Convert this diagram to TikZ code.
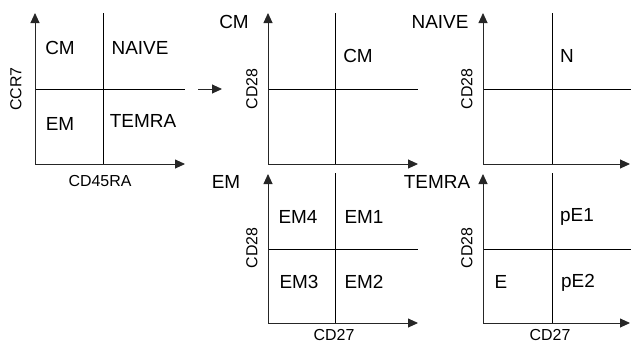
\documentclass[tikz,border=0pt]{standalone}
\usepackage{fontspec}
\setmainfont{Liberation Sans}
\usetikzlibrary{arrows.meta}
\tikzset{
  axis/.style={draw=black!85, line width=0.9bp, -{Triangle[length=10bp,width=9bp]}},
  divider/.style={draw=black, line width=0.8bp},
  quad/.style={font=\fontsize{19}{21}\selectfont, inner sep=0pt},
  axlabel/.style={font=\fontsize{16}{18}\selectfont, inner sep=0pt},
}

\begin{document}
\begin{tikzpicture}[x=1bp, y=-1bp]
    \useasboundingbox (0,0) rectangle (631,344);

    % CCR7 / CD45RA
    \coordinate (o1) at (35,164);
    \coordinate (t1) at (35,13);
    \coordinate (r1) at (185,164);
    \coordinate (vt1) at (103,13);
    \coordinate (vb1) at (103,164);
    \coordinate (hr1) at (185,89);
    \coordinate (hl1) at (35,89);
    \draw[divider] (vt1) -- (vb1);
    \draw[divider] (hl1) -- (hr1);
    \draw[axis] (o1) -- (t1);
    \draw[axis] (o1) -- (r1);
    \node[quad] (cm1) at (60,48) {CM};
    \node[quad] (naive1) at (140,48) {NAIVE};
    \node[quad] (em1) at (60,124) {EM};
    \node[quad] (temra1) at (143,121) {TEMRA};
    \node[axlabel] (xlab1) at (100,181) {CD45RA};
    \node[axlabel, rotate=90] (ylab1) at (16,89) {CCR7};

    \coordinate (from) at (198,89);
    \coordinate (to) at (222,89);
    \draw[axis] (from) -- (to);

    % CM
    \coordinate (o2) at (268,164);
    \coordinate (t2) at (268,13);
    \coordinate (r2) at (418,164);
    \coordinate (vt2) at (335,13);
    \coordinate (vb2) at (335,164);
    \coordinate (hl2) at (268,89);
    \coordinate (hr2) at (418,89);
    \draw[divider] (vt2) -- (vb2);
    \draw[divider] (hl2) -- (hr2);
    \draw[axis] (o2) -- (t2);
    \draw[axis] (o2) -- (r2);
    \node[quad] (title2) at (234,22) {CM};
    \node[quad] (cm2) at (358,56) {CM};
    \node[axlabel, rotate=90] (ylab2) at (252,89) {CD28};

    % NAIVE
    \coordinate (o3) at (483,164);
    \coordinate (t3) at (483,13);
    \coordinate (r3) at (630,164);
    \coordinate (vt3) at (552,13);
    \coordinate (vb3) at (552,164);
    \coordinate (hl3) at (483,89);
    \coordinate (hr3) at (631,89);
    \draw[divider] (vt3) -- (vb3);
    \draw[divider] (hl3) -- (hr3);
    \draw[axis] (o3) -- (t3);
    \draw[axis] (o3) -- (r3);
    \node[quad] (title3) at (440,22) {NAIVE};
    \node[quad] (n3) at (567,56) {N};
    \node[axlabel, rotate=90] (ylab3) at (467,89) {CD28};

    % EM
    \coordinate (o4) at (268,323);
    \coordinate (t4) at (268,174);
    \coordinate (r4) at (418,323);
    \coordinate (vt4) at (335,173);
    \coordinate (vb4) at (335,323);
    \coordinate (hl4) at (268,249);
    \coordinate (hr4) at (418,249);
    \draw[divider] (vt4) -- (vb4);
    \draw[divider] (hl4) -- (hr4);
    \draw[axis] (o4) -- (t4);
    \draw[axis] (o4) -- (r4);
    \node[quad] (title4) at (226,182) {EM};
    \node[quad] (em4) at (298,217) {EM4};
    \node[quad] (em1b) at (364,217) {EM1};
    \node[quad] (em3) at (299,282) {EM3};
    \node[quad] (em2) at (364,282) {EM2};
    \node[axlabel, rotate=90] (ylab4) at (252,248) {CD28};
    \node[axlabel] (xlab4) at (334,335) {CD27};

    % TEMRA
    \coordinate (o5) at (483,323);
    \coordinate (t5) at (483,174);
    \coordinate (r5) at (630,323);
    \coordinate (vt5) at (552,173);
    \coordinate (vb5) at (552,323);
    \coordinate (hl5) at (483,249);
    \coordinate (hr5) at (631,249);
    \draw[divider] (vt5) -- (vb5);
    \draw[divider] (hl5) -- (hr5);
    \draw[axis] (o5) -- (t5);
    \draw[axis] (o5) -- (r5);
    \node[quad] (title5) at (437,182) {TEMRA};
    \node[quad] (pe1) at (577,217) {pE1};
    \node[quad] (pe2) at (578,283) {pE2};
    \node[quad] (e5) at (501,282) {E};
    \node[axlabel, rotate=90] (ylab5) at (467,248) {CD28};
    \node[axlabel] (xlab5) at (550,335) {CD27};
\end{tikzpicture}
\end{document}
